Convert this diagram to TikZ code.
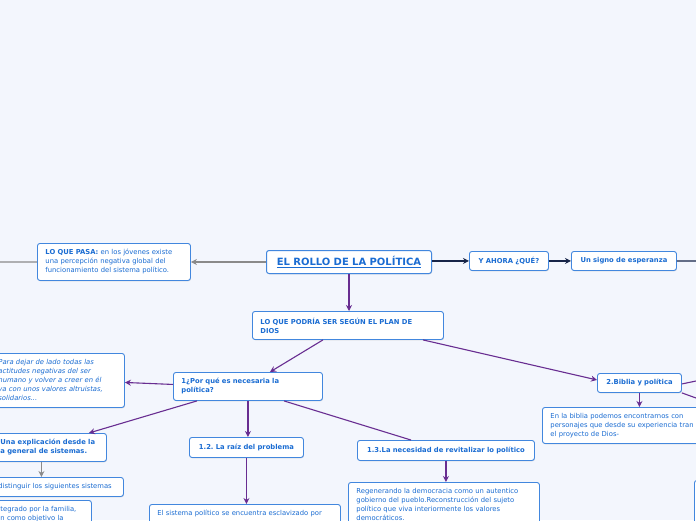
\documentclass[tikz,border=0pt]{standalone}
\usepackage{fontspec}
\setmainfont{DejaVu Sans}
\frenchspacing
\usetikzlibrary{arrows.meta,shadows}
\definecolor{bgblue}{RGB}{243,246,253}
\definecolor{boxblue}{RGB}{66,135,222}
\definecolor{txtblue}{RGB}{26,108,210}
\definecolor{linkpurple}{RGB}{104,45,145}
\definecolor{linknavy}{RGB}{22,36,72}
\definecolor{linkgray}{RGB}{138,138,138}

\begin{document}
\begin{tikzpicture}[
		x=1pt, y=-1pt,
		mapbox/.style={draw=boxblue, fill=white, rounded corners=2.5pt, line width=0.9pt, text=txtblue,
			font=\fontsize{6.8}{9}\selectfont, align=left, anchor=north west, inner xsep=8pt, inner ysep=0pt,
			drop shadow={shadow xshift=0.5pt, shadow yshift=-0.8pt, opacity=0.25}},
		cutbox/.style={mapbox, inner ysep=5.5pt, text depth=40pt},
		rootbox/.style={mapbox, align=center, line width=1pt, font=\fontsize{10}{12}\selectfont\bfseries},
		purplink/.style={draw=linkpurple, line width=1.1pt, -{Stealth[length=6pt,width=6pt]}},
		navylink/.style={draw=linknavy, line width=1.1pt, -{Stealth[length=6pt,width=6pt]}},
		graylink/.style={draw=linkgray, line width=1.1pt, -{Stealth[length=6pt,width=6pt]}},
		]
		\fill[bgblue] (0,0) rectangle (696,520);
		\useasboundingbox (0,0) rectangle (696,520);
		\clip (0,0) rectangle (696,520);

		% central topic and first row
		\node[rootbox, text width=149pt, minimum height=23pt] (root) at (266,250) {\underline{EL ROLLO DE LA POLÍTICA}};
		\node[mapbox, text width=137pt, minimum height=37pt] (pasa) at (37,243)
			{\textbf{LO QUE PASA:} en los jóvenes existe\\una percepción negativa global del\\funcionamiento del sistema político.};
		\node[mapbox, align=center, text width=63pt, minimum height=19pt] (ahora) at (469,251) {\textbf{Y AHORA ¿QUÉ?}};
		\node[mapbox, align=center, text width=89pt, minimum height=19pt] (signo) at (571,251) {\textbf{Un signo de esperanza}};
		\coordinate (pasaout) at (0,262);
		\coordinate (signoout) at (696,261);

		% plan de Dios
		\node[mapbox, text width=175pt, minimum height=28pt] (plan) at (252,311)
			{\textbf{LO QUE PODRÍA SER SEGÚN EL PLAN DE}\\\textbf{DIOS}};
		\node[mapbox, text width=133pt, minimum height=28pt] (porque) at (173,372)
			{\textbf{1¿Por qué es necesaria la}\\\textbf{política?}};
		\node[mapbox, align=center, text width=68pt, minimum height=19pt] (biblia) at (597,373) {\textbf{2.Biblia y política}};
		\coordinate (bibout1) at (696,381);
		\coordinate (bibout2) at (696,398);

		% left branch
		\node[mapbox, text width=118pt, minimum height=54pt] (dejar) at (-10,353)
			{\itshape Para dejar de lado todas las\\\itshape actitudes negativas del ser\\\itshape humano y volver a creer en él\\\itshape ya con unos valores altruistas,\\\itshape solidarios...};
		\node[mapbox, text width=98pt, minimum height=28pt] (explic) at (-8,433)
			{\textbf{Una explicación desde la}\\\textbf{a general de sistemas.}};
		\node[mapbox, text width=117pt, minimum height=19pt] (distinguir) at (-10,477) {distinguir los siguientes sistemas};
		\node[cutbox, text width=83pt] (integrado) at (-8,500) {tegrado por la familia,\\n como objetivo la};

		% middle branches
		\node[mapbox, align=center, text width=98pt, minimum height=20pt] (raiz) at (189,437) {\textbf{1.2. La raíz del problema}};
		\node[cutbox, text width=175pt] (esclavo) at (149,504) {El sistema político se encuentra esclavizado por};
		\node[mapbox, align=center, text width=161pt, minimum height=20pt] (revital) at (357,440)
			{\textbf{1.3.La necesidad de revitalizar lo político}};
		\node[cutbox, text width=175pt] (regenera) at (348,482)
			{Regenerando la democracia como un autentico\\gobierno del pueblo.Reconstrucción del sujeto\\político que viva interiormente los valores\\democráticos.};

		% right branch
		\node[mapbox, text width=200pt, minimum height=36pt] (bibtxt) at (542,407)
			{En la biblia podemos encontrarnos con\\personajes que desde su experiencia tran\\el proyecto de Dios-};
		\node[cutbox, text width=10pt] (edgebox) at (694,480) {};

		% connectors
		\draw[graylink] (root.west) -- (root.west -| pasa.east);
		\draw[graylink, -] (pasa.west) -- (pasaout);
		\draw[navylink] (ahora.west -| root.east) -- (ahora.west);
		\draw[navylink] (ahora.east) -- (signo.west);
		\draw[navylink, -] (signo.east) -- (signoout);
		\draw[purplink] (root.south) -- (root.south |- plan.north);
		\draw[purplink] ([xshift=-25pt]plan.south) -- ([xshift=22pt]porque.north);
		\draw[purplink] ([xshift=75pt]plan.south) -- ([yshift=3pt]biblia.west);
		\draw[purplink] ([yshift=2pt]porque.west) -- ([yshift=-2pt]dejar.east);
		\draw[purplink] ([xshift=24pt]porque.south west) -- ([xshift=-18pt]explic.north east);
		\draw[purplink] (porque.south) -- (porque.south |- raiz.north);
		\draw[purplink, -] ([xshift=36pt]porque.south) -- ([xshift=-35pt]revital.north);
		\draw[purplink] (raiz.south) -- (raiz.south |- esclavo.north);
		\draw[purplink] (revital.south) -- (revital.south |- regenera.north);
		\draw[purplink] (biblia.south) -- (biblia.south |- bibtxt.north);
		\draw[purplink, -] ([yshift=-1pt]biblia.east) -- (bibout1);
		\draw[purplink, -] (biblia.south east) -- (bibout2);
		\draw[graylink] ([xshift=-8pt]explic.south) -- ([xshift=-8pt]explic.south |- distinguir.north);
	\end{tikzpicture}
\end{document}
